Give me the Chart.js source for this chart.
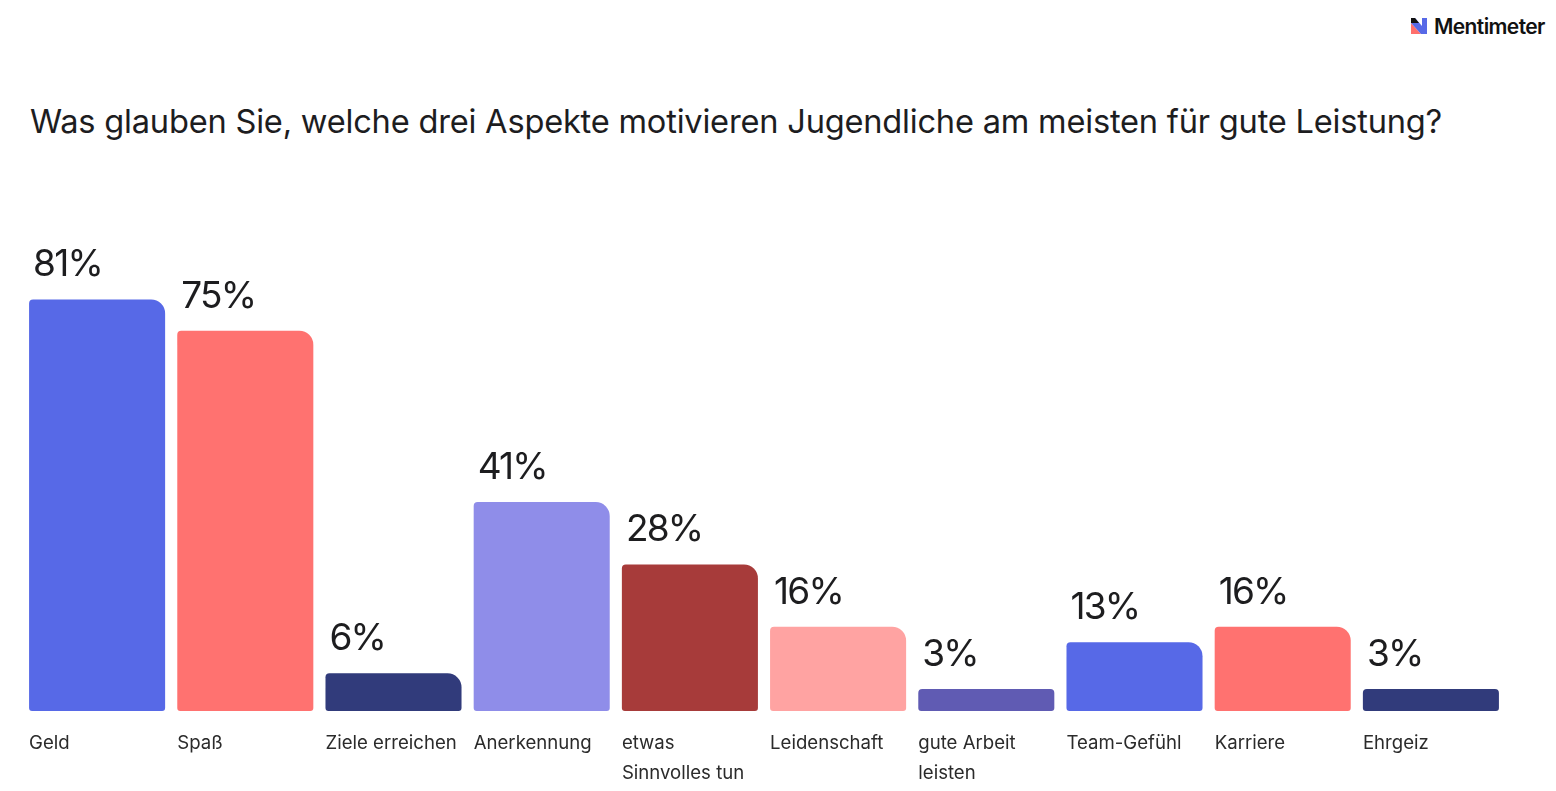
<!DOCTYPE html>
<html>
<head>
<meta charset="utf-8">
<script src="https://cdn.jsdelivr.net/npm/chart.js@4.4.1/dist/chart.umd.min.js"></script>
<style>
  html, body { margin: 0; padding: 0; background: #fff; }
  body { width: 1556px; height: 791px; position: relative; overflow: hidden; font-family: Inter, sans-serif; }
  #title { position: absolute; left: 30px; top: 101px; font-size: 32.6px; color: #1d1d1f; letter-spacing: -0.2px; white-space: nowrap; }
  #logo { position: absolute; left: 1411px; top: 14px; height: 24px; display: flex; align-items: center; font-size: 21px; font-weight: 600; color: #111; letter-spacing: -0.6px; }
  #logo svg { margin-right: 7px; }
  #wrap { position: absolute; left: 0; top: 0; width: 1556px; height: 791px; }
</style>
</head>
<body>
<div id="title">Was glauben Sie, welche drei Aspekte motivieren Jugendliche am meisten für gute Leistung?</div>
<div id="logo">
  <svg width="16" height="16" viewBox="0 0 16 16">
    <polygon points="0,16 0,5 10,16" fill="#ff6f6c"/>
    <polygon points="4,0 11,8 11,0 16,0 16,16 10,16 0,5 0,0" fill="#5769e7"/>
    <polygon points="0,0 4,0 8,5 0,5" fill="#111"/>
  </svg>
  Mentimeter
</div>
<div id="wrap"><canvas id="myChart"></canvas></div>
<script>
const categories = ['Geld', 'Spaß', 'Ziele erreichen', 'Anerkennung', ['etwas', 'Sinnvolles tun'],
  'Leidenschaft', ['gute Arbeit', 'leisten'], 'Team-Gefühl', 'Karriere', 'Ehrgeiz'];
// share of respondents in percent
const shares = [81.25, 75, 6.25, 40.6, 28.1, 15.6, 3.1, 12.5, 15.6, 3.1];
const barColors = ['#5769e7', '#ff7270', '#313b7b', '#8f8de9', '#a73b3a',
  '#ffa3a2', '#605bb3', '#5769e7', '#ff7270', '#313b7b'];

const yMin = -1.3;

const valueLabels = {
  id: 'valueLabels',
  afterDatasetsDraw(chart) {
    const c = chart.ctx;
    const meta = chart.getDatasetMeta(0);
    c.save();
    c.font = '37px Inter, sans-serif';
    c.letterSpacing = '-1.8px';
    c.fillStyle = '#1d1d1f';
    c.textAlign = 'left';
    c.textBaseline = 'alphabetic';
    meta.data.forEach((bar, i) => {
      const left = bar.x - bar.width / 2;
      c.fillText(Math.round(shares[i]) + '%', left + 4, bar.y - 23);
    });
    c.restore();
  }
};

const ctx = document.getElementById('myChart');

new Chart(ctx, {
  type: 'bar',
  data: {
    labels: categories,
    datasets: [{
      data: shares,
      base: yMin,
      backgroundColor: barColors,
      borderSkipped: false,
      borderRadius: (c) => {
        const v = shares[c.dataIndex];
        return { topLeft: 4, topRight: v < 5 ? 4 : 14, bottomLeft: 3, bottomRight: 3 };
      },
      barPercentage: 0.918,
      categoryPercentage: 1
    }]
  },
  options: {
    responsive: true,
    maintainAspectRatio: false,
    animation: false,
    layout: { padding: { left: 23, right: 51, top: 206, bottom: 0 } },
    plugins: { legend: { display: false }, tooltip: { enabled: false } },
    scales: {
      x: {
        grid: { display: false, drawTicks: false },
        border: { display: false },
        afterFit: (scale) => { scale.height = 80; },
        ticks: {
          align: 'start',
          labelOffset: -68,
          padding: 17,
          maxRotation: 0,
          autoSkip: false,
          color: '#2b2b2b',
          font: { family: 'Inter, sans-serif', size: 18.6, lineHeight: '30px' }
        }
      },
      y: {
        display: false,
        min: yMin,
        max: 100
      }
    }
  },
  plugins: [valueLabels]
});
</script>
</body>
</html>
